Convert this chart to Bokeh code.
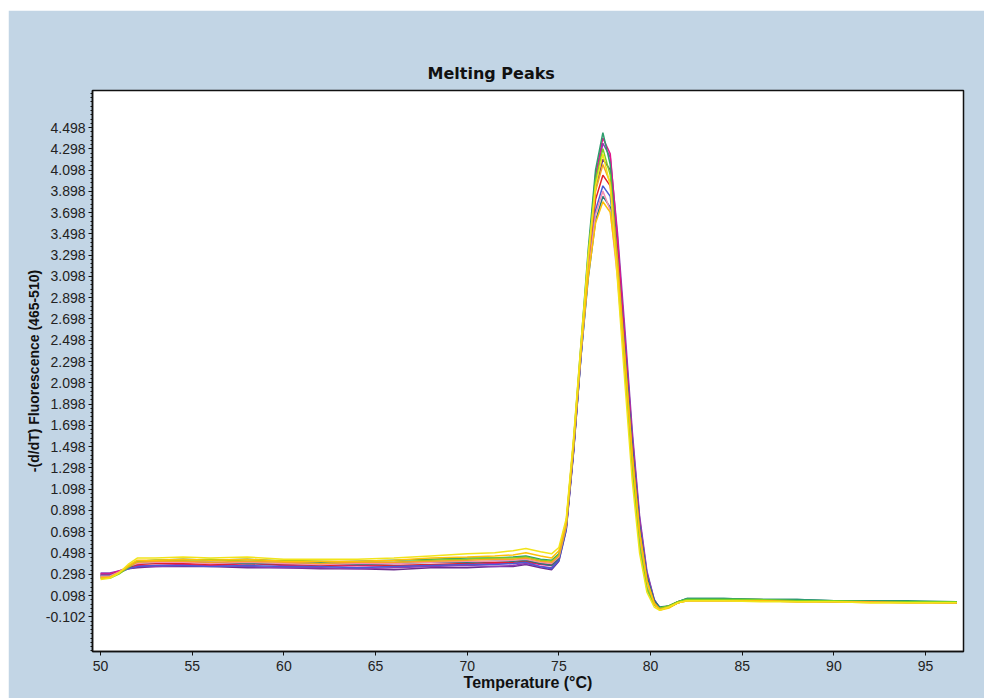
from bokeh.plotting import figure
from bokeh.models import Range1d, FixedTicker, PrintfTickFormatter
from bokeh.embed import file_html
from bokeh.resources import INLINE

# ---------------- data ----------------
temperature = [50.0, 50.5, 51.0, 51.5, 52.0, 53.0, 54.5, 56.0, 58.0, 60.0,
               62.0, 64.0, 66.0, 68.0, 70.0, 71.5, 72.5, 73.2, 74.0, 74.6,
               75.0, 75.4, 75.8, 76.2, 76.6, 77.0, 77.4, 77.8, 78.2, 78.6,
               79.0, 79.4, 79.8, 80.2, 80.5, 81.0, 81.5, 82.0, 84.0, 86.0,
               88.0, 90.0, 92.0, 94.0, 96.7]

s_teal = [0.27, 0.27, 0.31, 0.37, 0.42, 0.43, 0.44, 0.43, 0.44, 0.42, 0.41, 0.42, 0.43, 0.44, 0.45, 0.45, 0.46, 0.47, 0.44, 0.43,
          0.49, 0.78, 1.55, 2.45, 3.35, 4.10, 4.45, 4.15, 3.25, 2.25, 1.30, 0.58, 0.16, 0.01, -0.02,
          0.00, 0.04, 0.07, 0.07, 0.06, 0.06, 0.05, 0.05, 0.05, 0.04]
s_magenta = [0.30, 0.30, 0.33, 0.36, 0.38, 0.38, 0.39, 0.38, 0.40, 0.38, 0.37, 0.38, 0.37, 0.38, 0.39, 0.40, 0.40, 0.41, 0.39, 0.38,
             0.45, 0.74, 1.48, 2.38, 3.28, 4.05, 4.40, 4.25, 3.45, 2.50, 1.55, 0.78, 0.28, 0.04, -0.03,
             -0.01, 0.03, 0.06, 0.06, 0.05, 0.05, 0.04, 0.05, 0.04, 0.03]
s_purple = [0.31, 0.31, 0.33, 0.35, 0.37, 0.37, 0.38, 0.38, 0.37, 0.36, 0.36, 0.35, 0.36, 0.37, 0.38, 0.37, 0.38, 0.40, 0.37, 0.36,
            0.44, 0.73, 1.46, 2.36, 3.25, 4.00, 4.35, 4.22, 3.50, 2.60, 1.65, 0.85, 0.33, 0.06, -0.02,
            -0.01, 0.03, 0.06, 0.06, 0.06, 0.05, 0.05, 0.04, 0.04, 0.03]
s_lightgreen = [0.26, 0.26, 0.30, 0.36, 0.42, 0.43, 0.43, 0.44, 0.42, 0.43, 0.42, 0.41, 0.41, 0.43, 0.44, 0.45, 0.45, 0.46, 0.43, 0.42,
                0.48, 0.77, 1.52, 2.42, 3.30, 4.00, 4.30, 4.05, 3.20, 2.22, 1.28, 0.57, 0.17, 0.01, -0.02,
                0.00, 0.04, 0.06, 0.06, 0.06, 0.05, 0.05, 0.04, 0.04, 0.04]
s_orange = [0.27, 0.27, 0.31, 0.37, 0.41, 0.42, 0.42, 0.41, 0.42, 0.41, 0.40, 0.41, 0.41, 0.42, 0.43, 0.44, 0.44, 0.45, 0.42, 0.41,
            0.47, 0.76, 1.50, 2.40, 3.22, 3.90, 4.15, 3.98, 3.25, 2.35, 1.42, 0.70, 0.24, 0.03, -0.03,
            -0.01, 0.03, 0.05, 0.05, 0.05, 0.04, 0.04, 0.04, 0.03, 0.03]
s_red = [0.29, 0.29, 0.32, 0.36, 0.39, 0.40, 0.40, 0.39, 0.40, 0.39, 0.38, 0.39, 0.38, 0.39, 0.40, 0.41, 0.41, 0.42, 0.40, 0.39,
         0.46, 0.75, 1.48, 2.37, 3.18, 3.82, 4.05, 3.95, 3.30, 2.42, 1.50, 0.75, 0.27, 0.04, -0.02,
         0.00, 0.04, 0.06, 0.06, 0.05, 0.05, 0.05, 0.04, 0.04, 0.03]
s_blue = [0.29, 0.29, 0.31, 0.35, 0.37, 0.38, 0.38, 0.37, 0.38, 0.37, 0.37, 0.36, 0.37, 0.38, 0.39, 0.39, 0.40, 0.41, 0.37, 0.35,
          0.43, 0.72, 1.45, 2.33, 3.12, 3.72, 3.95, 3.85, 3.25, 2.40, 1.50, 0.76, 0.28, 0.05, -0.02,
          -0.01, 0.03, 0.06, 0.06, 0.05, 0.05, 0.04, 0.04, 0.04, 0.03]
s_pink = [0.28, 0.28, 0.32, 0.37, 0.40, 0.41, 0.41, 0.40, 0.41, 0.40, 0.39, 0.40, 0.40, 0.41, 0.42, 0.42, 0.43, 0.44, 0.41, 0.40,
          0.46, 0.75, 1.49, 2.36, 3.12, 3.68, 3.90, 3.72, 3.08, 2.22, 1.32, 0.62, 0.19, 0.02, -0.03,
          -0.01, 0.03, 0.05, 0.05, 0.05, 0.04, 0.04, 0.04, 0.03, 0.03]
s_darkteal = [0.28, 0.28, 0.31, 0.36, 0.40, 0.41, 0.41, 0.41, 0.40, 0.40, 0.40, 0.39, 0.40, 0.41, 0.41, 0.42, 0.42, 0.43, 0.40, 0.38,
              0.45, 0.74, 1.47, 2.34, 3.08, 3.62, 3.85, 3.75, 3.20, 2.38, 1.48, 0.74, 0.27, 0.05, -0.01,
              0.00, 0.04, 0.07, 0.07, 0.06, 0.06, 0.05, 0.05, 0.04, 0.04]
s_darkpurple = [0.30, 0.30, 0.32, 0.35, 0.36, 0.37, 0.37, 0.37, 0.36, 0.36, 0.35, 0.35, 0.34, 0.36, 0.36, 0.37, 0.37, 0.39, 0.36, 0.34,
                0.42, 0.71, 1.44, 2.34, 3.20, 3.92, 4.20, 4.10, 3.40, 2.52, 1.60, 0.82, 0.31, 0.06, -0.02,
                -0.01, 0.03, 0.06, 0.06, 0.05, 0.05, 0.04, 0.04, 0.04, 0.03]
s_gold = [0.26, 0.27, 0.31, 0.38, 0.43, 0.43, 0.44, 0.43, 0.44, 0.42, 0.42, 0.42, 0.43, 0.45, 0.46, 0.47, 0.48, 0.50, 0.47, 0.45,
          0.52, 0.80, 1.55, 2.40, 3.10, 3.60, 3.80, 3.70, 3.15, 2.32, 1.42, 0.70, 0.24, 0.02, -0.04,
          -0.02, 0.03, 0.05, 0.05, 0.05, 0.04, 0.04, 0.03, 0.03, 0.03]
s_yellow = [0.25, 0.26, 0.31, 0.39, 0.45, 0.45, 0.46, 0.45, 0.46, 0.44, 0.44, 0.44, 0.45, 0.47, 0.49, 0.50, 0.52, 0.54, 0.51, 0.49,
            0.55, 0.82, 1.58, 2.46, 3.30, 3.95, 4.25, 3.95, 3.05, 2.10, 1.18, 0.50, 0.13, -0.01, -0.04,
            -0.01, 0.03, 0.05, 0.05, 0.04, 0.04, 0.04, 0.03, 0.03, 0.03]

series = [s_darkpurple, s_purple, s_magenta, s_red, s_blue, s_darkteal, s_teal,
          s_pink, s_lightgreen, s_orange, s_gold, s_yellow]
colors = ["#6b2d8f", "#8b3fb5", "#e0168c", "#e3222b", "#4a5bd4", "#2a7a7a", "#2e9e6e",
          "#f48fb1", "#7ed321", "#f5a623", "#ffc107", "#f2e41a"]

y_ticks = [-0.102, 0.098, 0.298, 0.498, 0.698, 0.898, 1.098, 1.298, 1.498, 1.698,
           1.898, 2.098, 2.298, 2.498, 2.698, 2.898, 3.098, 3.298, 3.498, 3.698,
           3.898, 4.098, 4.298, 4.498]
y_minor = [round(-0.102 + 0.04 * i, 3) for i in range(-8, 125)]
x_ticks = [50, 55, 60, 65, 70, 75, 80, 85, 90, 95]

# ---------------- figure ----------------
bg = "#c2d5e5"
p = figure(width=976, height=688, margin=(10, 0, 0, 8),
           output_backend="svg", toolbar_location=None,
           x_range=Range1d(49.56, 97.07), y_range=Range1d(-0.428, 4.846),
           min_border_left=84, min_border_top=80, min_border_right=21, min_border_bottom=47)
p.border_fill_color = bg
p.background_fill_color = "white"
p.outline_line_color = "#111111"
p.outline_line_width = 1.5
p.xgrid.visible = False
p.ygrid.visible = False

p.title.text = "Melting Peaks"
p.title.align = "left"
p.title.text_font = "DejaVu Sans"
p.title.text_font_style = "bold"
p.title.text_font_size = "16px"
p.title.text_color = "#111111"
p.title.offset = 335
p.title.standoff = 15

for ax in (p.xaxis[0], p.yaxis[0]):
    ax.axis_line_color = "#111111"
    ax.axis_line_width = 1.5
    ax.major_tick_line_color = "#111111"
    ax.minor_tick_line_color = "#111111"
    ax.major_tick_in = 0
    ax.major_tick_out = 4
    ax.minor_tick_in = 0
    ax.minor_tick_out = 2
    ax.major_label_text_font = "Liberation Sans"
    ax.major_label_text_font_size = "14px"
    ax.major_label_text_color = "#222222"
    ax.axis_label_text_font = "Liberation Sans"
    ax.axis_label_text_font_style = "bold"
    ax.axis_label_text_color = "#111111"

p.xaxis.ticker = FixedTicker(ticks=x_ticks, minor_ticks=[])
p.yaxis.ticker = FixedTicker(ticks=y_ticks, minor_ticks=y_minor)
p.yaxis.formatter = PrintfTickFormatter(format="%.3f")
p.xaxis.axis_label = "Temperature (°C)"
p.xaxis.axis_label_text_font_size = "16px"
p.xaxis.major_label_standoff = 5
p.xaxis.axis_label_standoff = 0
p.yaxis.axis_label = "-(d/dT) Fluorescence (465-510)"
p.yaxis.axis_label_text_font_size = "14px"
p.yaxis.major_label_standoff = 3
p.yaxis.axis_label_standoff = 1

for vals, c in zip(series, colors):
    p.line(temperature, vals, line_color=c, line_width=1.5)

open("out.html", "w").write(file_html(p, INLINE))
